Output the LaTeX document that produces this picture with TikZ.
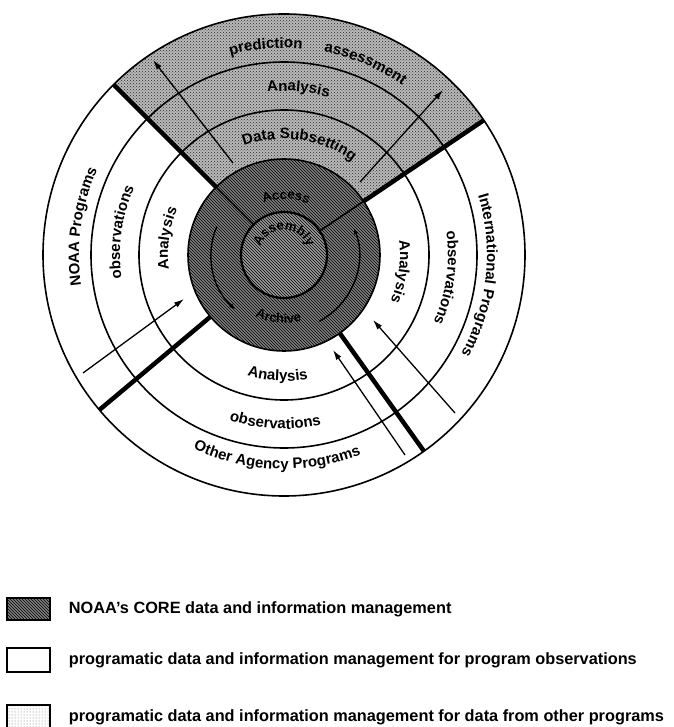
\documentclass[tikz,border=0pt]{standalone}
\usepackage{fontspec}
\setmainfont{Liberation Sans}
\usepackage{tikz}
\usetikzlibrary{patterns}
\usetikzlibrary{positioning,calc}
\usetikzlibrary{decorations.text}
\usetikzlibrary{arrows.meta}
\tikzstyle{flowarrow} = [line width=1.3pt,-{Latex[length=10pt,width=6pt]}]
\tikzstyle{cyclearrow} = [line width=1.4pt,-{Latex[length=6pt,width=5pt]}]
\tikzstyle{ringline} = [line width=1.6pt]
\tikzstyle{divline} = [line width=4.5pt]
\tikzstyle{coreshade} = [preaction={fill=black!50},pattern=north west lines,pattern color=black]
\tikzstyle{innershade} = [preaction={fill=black!38},pattern=north west lines,pattern color=black]
\tikzstyle{othershade} = [preaction={fill=black!27},pattern=crosshatch dots,pattern color=black!85]
\tikzstyle{keybox} = [draw,line width=1.5pt,minimum width=43pt,minimum height=22pt,inner sep=0pt]
\tikzstyle{keytext} = [inner sep=0pt,font=\keyfont]
\newcommand{\ringfont}{\bfseries\fontsize{15pt}{18pt}\selectfont}
\newcommand{\corefont}{\bfseries\fontsize{13pt}{15pt}\selectfont}
\newcommand{\midfont}{\bfseries\fontsize{13pt}{15pt}\selectfont}
\newcommand{\keyfont}{\bfseries\fontsize{16.3pt}{19pt}\selectfont}
% text set on a circular arc round the centre
\newcommand{\ringtext}[5][\ringfont]{%
  \path[decorate,decoration={text along path,text align=center,text={|#1|#2}}]
    (#3:#5) arc[start angle=#3,end angle=#4,radius=#5];}

\begin{document}
\begin{tikzpicture}[x=1pt,y=1pt]
\useasboundingbox (-284,-472) rectangle (389,255);

% shaded areas
\path[othershade] (34:96) arc[start angle=34,end angle=135,radius=96]
  -- (135:241) arc[start angle=135,end angle=34,radius=241] -- cycle;
\path[coreshade] (0,0) circle[radius=96];
\path[innershade] (0,0) circle[radius=43];
\draw[line width=2.2pt] (0,0) circle[radius=43];

% rings and dividers
\foreach \r in {96,145,193,241}
  \draw[ringline] (0,0) circle[radius=\r];
\foreach \a in {34,135}
  \draw[ringline] (\a:43) -- (\a:96);
\foreach \a in {34,135,220,305.5}
  \draw[divline] (\a:96) -- (\a:241);

% flows in and out
\coordinate (tlFrom) at (-51,92);
\coordinate (tlTo) at (-131,195);
\coordinate (trFrom) at (76,73);
\coordinate (trTo) at (159,165);
\coordinate (blFrom) at (-201,-118);
\coordinate (blTo) at (-100,-44);
\coordinate (brFrom) at (121,-200);
\coordinate (brTo) at (49,-95);
\coordinate (rtFrom) at (171,-158);
\coordinate (rtTo) at (89,-65);
\draw[flowarrow] (tlFrom) -- (tlTo);
\draw[flowarrow] (trFrom) -- (trTo);
\draw[flowarrow] (blFrom) -- (blTo);
\draw[flowarrow] (brFrom) -- (brTo);
\draw[flowarrow] (rtFrom) -- (rtTo);

% core cycle
\draw[cyclearrow] (157:73) arc[start angle=157,end angle=228,radius=73];
\draw[cyclearrow] (298:75) arc[start angle=298,end angle=381,radius=75];
\ringtext[\corefont]{Access}{128}{48}{56}
\ringtext[\corefont]{Archive}{220}{310}{68}
\ringtext[\midfont]{Assembly}{175}{5}{25}

% top sector
\ringtext{prediction}{115}{75}{207}
\ringtext{assessment}{87}{47}{207}
\ringtext{Analysis}{125}{45}{164}
\ringtext{Data Subsetting}{122}{42}{116}

% left sector
\ringtext{NOAA Programs}{217}{127}{205}
\ringtext{observations}{217}{127}{164}
\ringtext{Analysis}{217}{127}{116}

% right sector
\ringtext{Analysis}{37}{-53}{116}
\ringtext{observations}{37}{-53}{164}
\ringtext{International Programs}{39}{-51}{203}

% bottom sector
\ringtext{Analysis}{222}{312}{126}
\ringtext{observations}{222}{312}{174}
\ringtext{Other Agency Programs}{223}{313}{214}

% key
\node[keybox,coreshade] (keyCore) at (-255.5,-354) {};
\node[keytext,right=18pt of keyCore] (keyCoreText) {NOAA's CORE data and information management};
\node[keybox,minimum height=24pt] (keyObs) at (-255.5,-405) {};
\node[keytext,right=18pt of keyObs] (keyObsText) {programatic data and information management for program observations};
\node[keybox,minimum height=24pt,pattern=dots,pattern color=black!55] (keyOther) at (-255.5,-462) {};
\node[keytext,right=18pt of keyOther] (keyOtherText) {programatic data and information management for data from other programs};
\end{tikzpicture}
\end{document}
